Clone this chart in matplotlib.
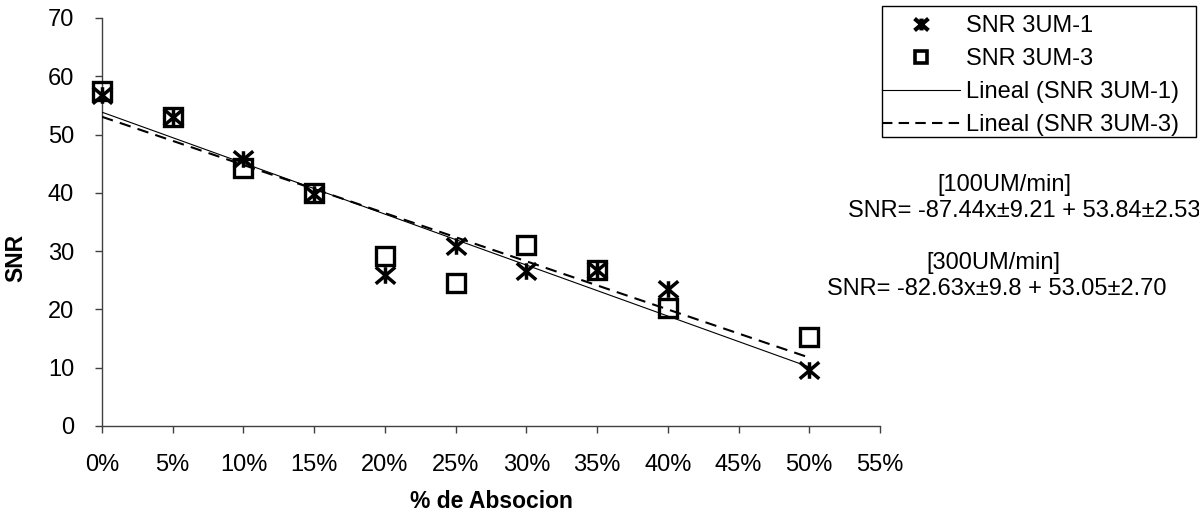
import matplotlib.pyplot as plt
import matplotlib.patches as mpatches
from matplotlib.path import Path
from matplotlib.lines import Line2D
from matplotlib.ticker import MultipleLocator, PercentFormatter

plt.rcParams['font.family'] = ['Liberation Sans', 'DejaVu Sans']

absorcion = [0.00, 0.05, 0.10, 0.15, 0.20, 0.25, 0.30, 0.35, 0.40, 0.50]
snr_3um1 = [56.8, 53.0, 45.8, 39.8, 25.9, 30.9, 26.6, 26.8, 23.5, 9.6]
snr_3um3 = [57.4, 53.0, 44.2, 40.0, 29.2, 24.6, 31.0, 26.8, 20.2, 15.2]

# linear fits (slope, intercept)
fit_100 = (-87.44, 53.84)
fit_300 = (-82.63, 53.05)
fit_range = [0.0, 0.5]

eq_lines = ['[100UM/min]', 'SNR= -87.44x\u00b19.21 + 53.84\u00b12.53',
            '[300UM/min]', 'SNR= -82.63x\u00b19.8 + 53.05\u00b12.70']

W, H = 1199, 515
fs = 17
axcol = '#404040'

# asterisk-like marker: X with a vertical bar
star = Path([(-1, -0.85), (1, 0.85), (-1, 0.85), (1, -0.85), (0, -0.85), (0, 0.85)],
            [Path.MOVETO, Path.LINETO, Path.MOVETO, Path.LINETO, Path.MOVETO, Path.LINETO])

fig = plt.figure(figsize=(W / 100, H / 100), dpi=100)
ax = fig.add_axes([102 / W, 1 - 426 / H, (880 - 102) / W, (426 - 18) / H])

ax.plot(absorcion, snr_3um1, linestyle='none', marker=star, markersize=14,
        markeredgewidth=2.5, color='black', clip_on=False, zorder=3)
ax.plot(absorcion, snr_3um3, linestyle='none', marker='s', markersize=13,
        markeredgewidth=2.4, markerfacecolor='none', markeredgecolor='black',
        clip_on=False, zorder=3)

yl1 = [fit_100[0] * x + fit_100[1] for x in fit_range]
yl3 = [fit_300[0] * x + fit_300[1] for x in fit_range]
ax.plot(fit_range, yl1, color='black', lw=0.8, zorder=4)
ax.plot(fit_range, yl3, color='black', lw=1.5, dashes=(5.5, 3.5), zorder=4)

ax.set_xlim(0, 0.55)
ax.set_ylim(0, 70)
ax.xaxis.set_major_locator(MultipleLocator(0.05))
ax.yaxis.set_major_locator(MultipleLocator(10))
ax.xaxis.set_major_formatter(PercentFormatter(xmax=1, decimals=0))

for s in ['top', 'right']:
    ax.spines[s].set_visible(False)
for s in ['left', 'bottom']:
    ax.spines[s].set_color(axcol)
    ax.spines[s].set_linewidth(1.0)
ax.tick_params(axis='both', direction='out', length=5, width=1.0, color=axcol,
               labelsize=fs, labelcolor='black')
ax.tick_params(axis='x', pad=15)
ax.tick_params(axis='y', pad=15)

fig.text(491 / W, 1 - 501 / H, '% de Absocion', fontsize=16.5, fontweight='bold',
         ha='center', va='center')
fig.text(16 / W, 1 - 258 / H, 'SNR', fontsize=16.5, fontweight='bold',
         rotation=90, ha='center', va='center')

# legend with a square frame
handles = [
    Line2D([], [], linestyle='none', marker=star, markersize=10, markeredgewidth=3, color='black'),
    Line2D([], [], linestyle='none', marker='s', markersize=9, markeredgewidth=2.6,
           markerfacecolor='none', markeredgecolor='black'),
    Line2D([], [], color='black', lw=0.8),
    Line2D([], [], color='black', lw=1.5, dashes=(5, 3)),
]
labels = ['SNR 3UM-1', 'SNR 3UM-3', 'Lineal (SNR 3UM-1)', 'Lineal (SNR 3UM-3)']
fig.legend(handles, labels, loc='upper left', bbox_to_anchor=(882 / W, 1 - 15 / H),
           frameon=False, fontsize=fs, handlelength=3.3, handletextpad=0.25,
           borderpad=0, borderaxespad=0, labelspacing=0.47)
fig.patches.append(mpatches.Rectangle((882 / W, 1 - 137 / H), (1196 - 882) / W, (137 - 6) / H,
                                      transform=fig.transFigure, fill=False,
                                      edgecolor='black', lw=1.0))

eq_pos = [(1004, 185), (1024, 211), (993, 263), (997, 289)]
for txt, (px, py) in zip(eq_lines, eq_pos):
    fig.text(px / W, 1 - py / H, txt, fontsize=fs, ha='center', va='center')

fig.savefig('out.png', dpi=100)
